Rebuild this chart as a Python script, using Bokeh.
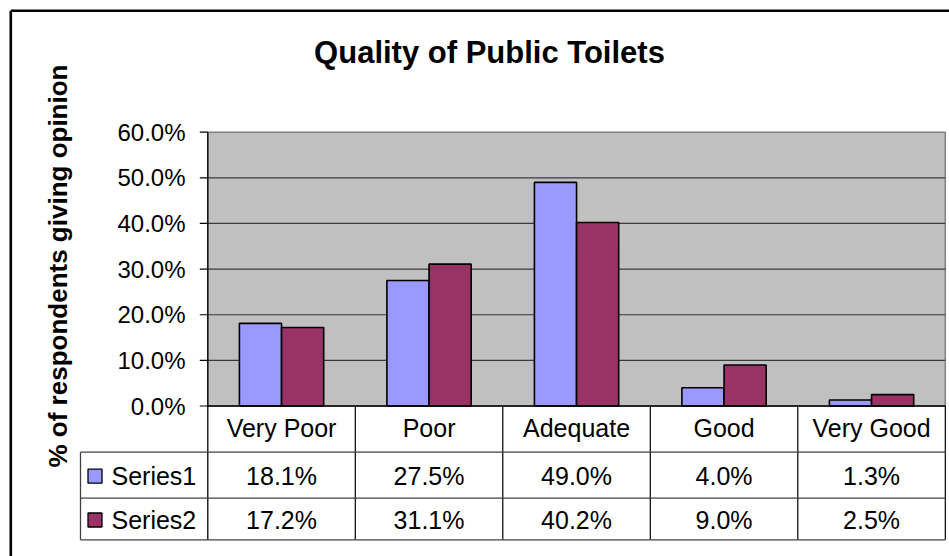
import numpy as np
from bokeh.plotting import figure
from bokeh.models import Range1d
from bokeh.core.properties import value
from bokeh.embed import file_html
from bokeh.resources import INLINE

# ---- data ----
categories = ["Very Poor", "Poor", "Adequate", "Good", "Very Good"]
series_names = ["Series1", "Series2"]
series1 = [18.1, 27.5, 49.0, 4.0, 1.3]
series2 = [17.2, 31.1, 40.2, 9.0, 2.5]
y_ticks = [0, 10, 20, 30, 40, 50, 60]
title_text = "Quality of Public Toilets"
y_label = "% of respondents giving opinion"

# ---- layout (pixels) ----
W, H = 949, 556
AX0 = 207.3      # left of plot area
CATW = 147.5     # category width
Y0 = 405.5       # pixel of 0%
PPU = 4.5633     # pixels per percent
FONT = "Liberation Sans"

def X(px):
    return (px - AX0) / CATW

def Y(py):
    return (Y0 - py) / PPU

p = figure(width=W, height=H, output_backend="svg", toolbar_location=None,
           x_range=Range1d(X(0), X(W)), y_range=Range1d(Y(H), Y(0)),
           x_axis_type=None, y_axis_type=None, min_border=0,
           background_fill_color="white", border_fill_color="white")
p.grid.visible = False
p.outline_line_color = None

n = len(categories)
ymax = y_ticks[-1]

# plot area
p.quad(left=[0], right=[n], bottom=[0], top=[ymax], fill_color="#C0C0C0",
       line_color="#808080", line_width=1.5)
# gridlines
for t in y_ticks[1:-1]:
    p.segment(x0=[0], y0=[t], x1=[n], y1=[t], line_color="#3a3a3a", line_width=1.2)

# bars
gap = 1.5
bw = 1.0 / (len(series_names) + gap)
idx = np.arange(n)
colors = ["#9999FF", "#993366"]
for k, vals in enumerate([series1, series2]):
    left = idx + gap * bw / 2 + k * bw
    p.quad(left=left, right=left + bw, bottom=0, top=vals,
           fill_color=colors[k], line_color="black", line_width=1.6)

# axes lines
p.segment(x0=[0], y0=[0], x1=[n], y1=[0], line_color="black", line_width=1.5)
TAB_ROWS = [405.5, 451.7, 497.7, 539.3]
p.segment(x0=[0], y0=[ymax], x1=[0], y1=[Y(TAB_ROWS[-1])], line_color="black", line_width=1.3)
# tick marks and labels
for t in y_ticks:
    p.segment(x0=[X(199.3)], y0=[t], x1=[0], y1=[t], line_color="black", line_width=1.2)
p.text(x=[X(185)] * len(y_ticks), y=y_ticks, text=[f"{t:.1f}%" for t in y_ticks],
       text_font=value(FONT), text_font_size="24px", text_align="right",
       text_baseline="middle", text_color="black")

# data table
for i in range(1, n + 1):
    p.segment(x0=[i], y0=[0], x1=[i], y1=[Y(TAB_ROWS[-1])], line_color="black", line_width=1.2)
for r in TAB_ROWS[1:]:
    p.segment(x0=[X(80)], y0=[Y(r)], x1=[n], y1=[Y(r)], line_color="#404040", line_width=1.3)
p.segment(x0=[X(80)], y0=[Y(TAB_ROWS[1])], x1=[X(80)], y1=[Y(TAB_ROWS[-1])],
          line_color="#404040", line_width=1.3)

centers = idx + 0.5
p.text(x=centers, y=[Y((TAB_ROWS[0] + TAB_ROWS[1]) / 2 - 1.5)] * n, text=categories,
       text_font=value(FONT), text_font_size="25px", text_align="center",
       text_baseline="middle", text_color="black")
for k, vals in enumerate([series1, series2]):
    yc = Y((TAB_ROWS[k + 1] + TAB_ROWS[k + 2]) / 2 + 1)
    p.text(x=centers, y=[yc] * n, text=[f"{v:.1f}%" for v in vals],
           text_font=value(FONT), text_font_size="25px", text_align="center",
           text_baseline="middle", text_color="black")
    p.rect(x=[X(94.5)], y=[yc], width=14, height=14, width_units="screen",
           height_units="screen", fill_color=colors[k], line_color="black", line_width=1.3)
    p.text(x=[X(111)], y=[yc], text=[series_names[k]], text_font=value(FONT),
           text_font_size="25px", text_align="left", text_baseline="middle",
           text_color="black")

# title
p.text(x=[X(489)], y=[Y(52)], text=[title_text], text_font=value(FONT),
       text_font_size="31px", text_font_style="bold", text_align="center",
       text_baseline="middle", text_color="black")
# y-axis label
p.text(x=[X(57)], y=[Y(265.5)], text=[y_label], text_font=value(FONT),
       text_font_size="26px", text_font_style="bold", text_align="center",
       text_baseline="middle", angle=np.pi / 2, text_color="black")

# outer chart border
p.segment(x0=[X(10.3)], y0=[Y(10.3)], x1=[X(W + 5)], y1=[Y(10.3)], line_color="black", line_width=2.6)
p.segment(x0=[X(10.3)], y0=[Y(10.3)], x1=[X(10.3)], y1=[Y(H + 5)], line_color="black", line_width=2.6)

open("out.html", "w").write(file_html(p, INLINE))
